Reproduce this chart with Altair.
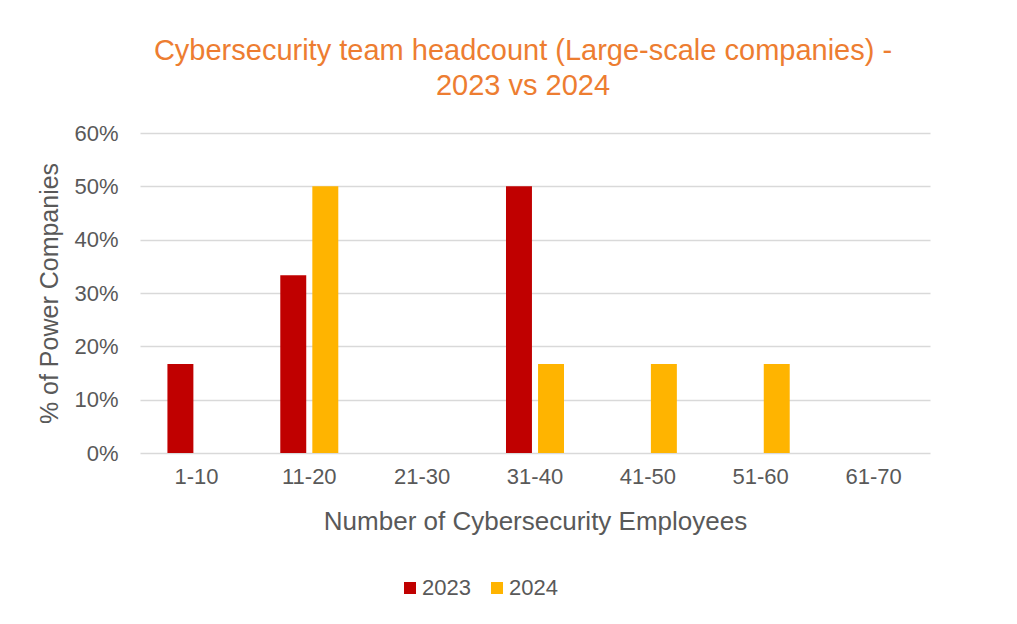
import altair as alt
import pandas as pd

categories = ["1-10", "11-20", "21-30", "31-40", "41-50", "51-60", "61-70"]
values_2023 = [0.1667, 0.3333, 0.0, 0.5, 0.0, 0.0, 0.0]
values_2024 = [0.0, 0.5, 0.0, 0.1667, 0.1667, 0.1667, 0.0]
years = ["2023", "2024"]
colors = ["#C00000", "#FFB400"]

rows = []
for c, v in zip(categories, values_2023):
    rows.append({"range": c, "year": "2023", "value": v})
for c, v in zip(categories, values_2024):
    rows.append({"range": c, "year": "2024", "value": v})
df = pd.DataFrame(rows)
df = df[df["value"] > 0]

FONT = "Liberation Sans"
TXT = "#595959"

chart = alt.Chart(df).mark_bar().encode(
    x=alt.X("range:N", sort=categories,
            scale=alt.Scale(domain=categories, paddingInner=0.486, paddingOuter=0.243),
            axis=alt.Axis(title="Number of Cybersecurity Employees", labelAngle=0,
                          labelFontSize=22, labelColor=TXT, labelPadding=13,
                          ticks=False, domain=False,
                          titleFontSize=26, titleColor=TXT, titleFontWeight="normal",
                          titleY=68, titleBaseline="middle")),
    xOffset=alt.XOffset("year:N", scale=alt.Scale(domain=years, paddingInner=0.19, paddingOuter=0)),
    y=alt.Y("value:Q", scale=alt.Scale(domain=[0, 0.6], nice=False),
            axis=alt.Axis(title="% of Power Companies", format=".0%", values=[0, 0.1, 0.2, 0.3, 0.4, 0.5, 0.6],
                          labelFontSize=22, labelColor=TXT, labelPadding=22,
                          ticks=False, domain=False,
                          gridColor="#D9D9D9", gridWidth=1.5,
                          titleFontSize=25, titleColor=TXT, titleFontWeight="normal",
                          titleX=-91, titleY=160, titleBaseline="middle", titleAngle=-90)),
    color=alt.Color("year:N", scale=alt.Scale(domain=years, range=colors),
                    legend=alt.Legend(title=None, orient="none", direction="horizontal",
                                      legendX=259, legendY=444,
                                      symbolType="square", symbolSize=144, symbolStrokeWidth=0,
                                      labelFontSize=22, labelColor=TXT, labelOffset=1,
                                      columnPadding=15)),
).properties(
    width=790,
    height=320,
    padding={"left": 132, "top": 125, "right": 70, "bottom": 150},
    autosize=alt.AutoSizeParams(type="none"),
    title=alt.TitleParams(
        text=["Cybersecurity team headcount (Large-scale companies) -", "2023 vs 2024"],
        color="#ED7D31", fontSize=29, fontWeight="normal", font=FONT,
        anchor="middle", dx=-12, offset=21, lineHeight=35,
    ),
).configure(font=FONT).configure_view(stroke=None).configure_axis(labelFont=FONT, titleFont=FONT)

chart.save("out.html", embed_options={"renderer": "svg", "actions": False})
